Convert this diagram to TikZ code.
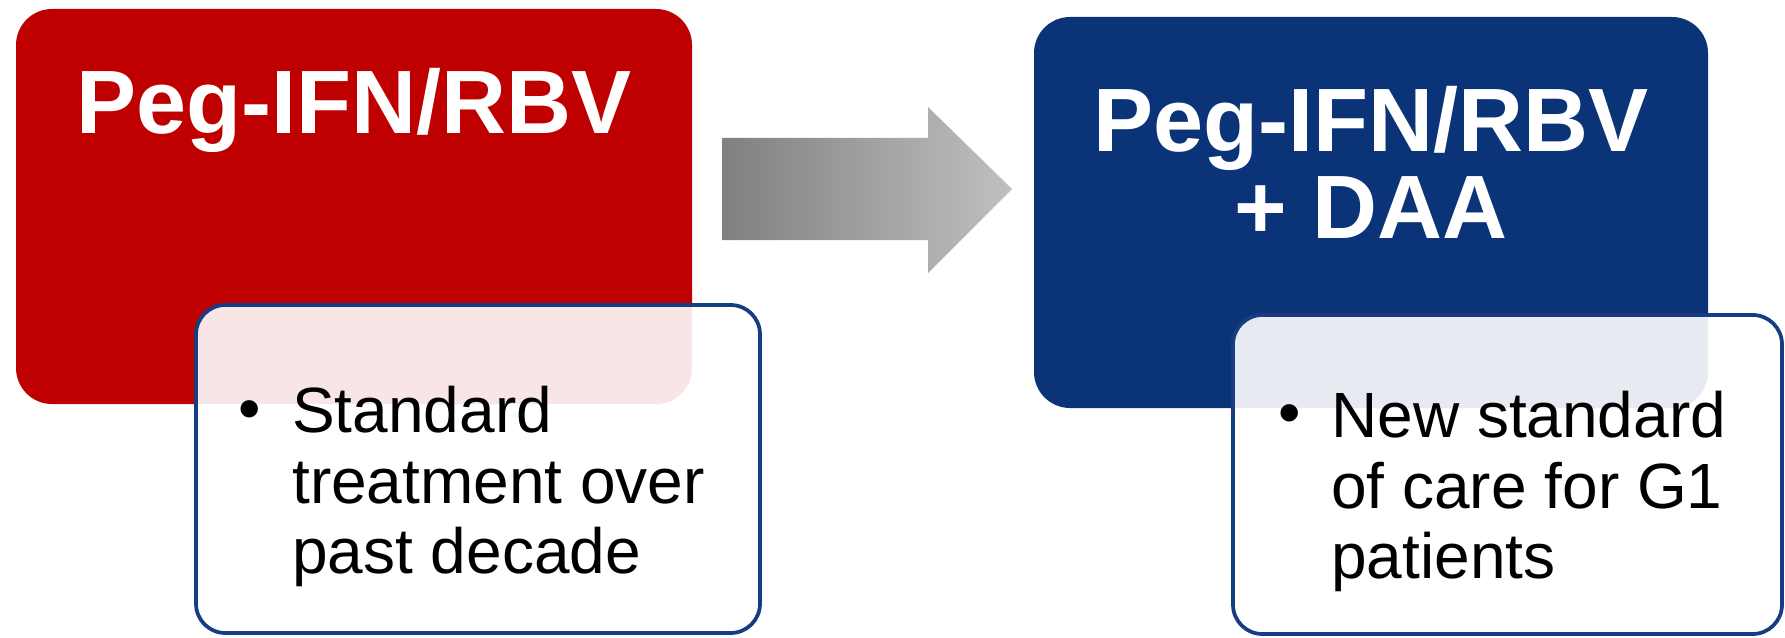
\documentclass[tikz,border=0pt]{standalone}
\usepackage{fontspec}
\setmainfont{Liberation Sans}
\usepackage{tikz}

\definecolor{pegred}{RGB}{190,0,0}
\definecolor{daablue}{RGB}{11,52,120}
\definecolor{noteedge}{RGB}{22,60,130}
\definecolor{arrowdark}{RGB}{128,128,128}
\definecolor{arrowlight}{RGB}{192,192,192}

\tikzset{
  headbox/.style={draw=none, rounded corners=27pt},
  notebox/.style={draw=noteedge, line width=2.8pt, fill=white, fill opacity=0.9, rounded corners=22pt},
  titletext/.style={text=white, inner sep=0pt, font=\fontsize{67.5}{65}\selectfont\bfseries},
  notetext/.style={text=black, inner sep=0pt, font=\fontsize{48}{53}\selectfont}
}

\begin{document}
\begin{tikzpicture}[x=0.75pt,y=0.75pt,yscale=-1]
\useasboundingbox (0,0) rectangle (1785,638);

%Shape: Rounded Rect [red]
\fill [headbox, pegred] (16,9) rectangle (692,404);
%Shape: Rounded Rect [blue]
\fill [headbox, daablue] (1034,17) rectangle (1708,408);

%Shape: Right Arrow
\shade [left color=arrowdark, middle color=arrowlight, right color=arrowlight] (722,138) -- (928,138) -- (928,107) -- (1012,189) -- (928,273) -- (928,240) -- (722,240) -- cycle;

%Shape: Rounded Rect [notes]
\draw [notebox] (196,305) rectangle (760,633);
\draw [notebox] (1233,315) rectangle (1782,634);

% Text Node
\node [titletext, anchor=base] (redtitle) at (354,134) {Peg-IFN/RBV};
% Text Node
\node [titletext, anchor=north, align=center] (bluetitle) at (1371,86) {Peg-IFN/RBV\\+ DAA};

% Text Node
\node [notetext, anchor=base] (redbullet) at (250,430) {\textbullet};
\node [notetext, anchor=north west, align=left] (rednote) at (292,386) {Standard\\treatment over\\past decade};
% Text Node
\node [notetext, anchor=base] (bluebullet) at (1290,434) {\textbullet};
\node [notetext, anchor=north west, align=left] (bluenote) at (1331,391) {New standard\\of care for G1\\patients};

\end{tikzpicture}
\end{document}
